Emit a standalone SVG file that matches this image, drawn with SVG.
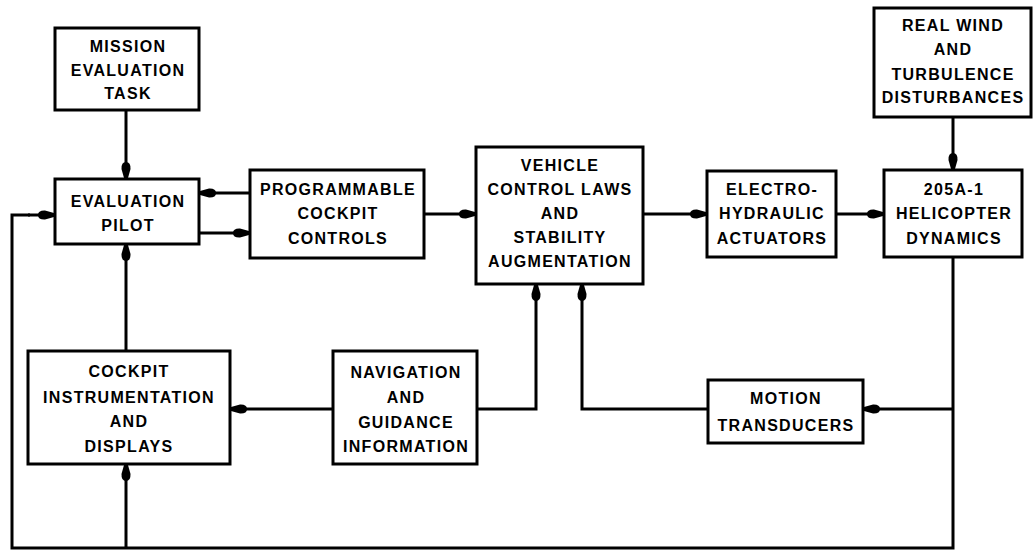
<svg xmlns="http://www.w3.org/2000/svg" width="1033" height="551" viewBox="0 0 1033 551">
<style>
.box{fill:#fff;stroke:#000;stroke-width:3}
.t{font-family:"Liberation Sans",Arial,sans-serif;font-weight:bold;font-size:16px;letter-spacing:1.3px;text-anchor:middle;fill:#000}
.c{fill:none;stroke:#000;stroke-width:3;stroke-linejoin:miter}
.a{marker-end:url(#ah)}
</style>
<defs>
<marker id="ah" markerUnits="userSpaceOnUse" markerWidth="20" markerHeight="12" viewBox="-17 -6 18 12" refX="0" refY="0" orient="auto">
<path d="M0,-2 L-9,-4.5 Q-16,-4.8 -16,0 Q-16,4.8 -9,4.5 L0,2 Z" fill="#000"/>
</marker>
</defs>
<rect width="1033" height="551" fill="#fff"/>
<g id="connectors">
<path class="c a" d="M126,110 V178"/>
<path class="c a" d="M250,193 H200"/>
<path class="c a" d="M199,233 H249"/>
<path class="c" d="M953,257 V548 H12 V215 H30"/>
<path class="c a" d="M28,215 H54"/>
<path class="c a" d="M126,548 V465"/>
<path class="c a" d="M424,214 H475"/>
<path class="c a" d="M643,214 H706"/>
<path class="c a" d="M836,214 H883"/>
<path class="c a" d="M953,117 V169"/>
<path class="c a" d="M953,409 H864"/>
<path class="c a" d="M708,409 H582 V285"/>
<path class="c a" d="M477,409 H536 V285"/>
<path class="c a" d="M333,409 H231"/>
<path class="c a" d="M126,351 V245"/>
</g>
<g id="mission">
<rect class="box" x="55" y="28" width="144" height="82"/>
<text class="t" x="128" y="52">MISSION</text>
<text class="t" x="128" y="76">EVALUATION</text>
<text class="t" x="128" y="99">TASK</text>
</g>
<g id="pilot">
<rect class="box" x="55" y="179" width="144" height="65"/>
<text class="t" x="128" y="207">EVALUATION</text>
<text class="t" x="128" y="231">PILOT</text>
</g>
<g id="pcc">
<rect class="box" x="250" y="170" width="174" height="88"/>
<text class="t" x="338" y="195">PROGRAMMABLE</text>
<text class="t" x="338" y="219">COCKPIT</text>
<text class="t" x="338" y="244">CONTROLS</text>
</g>
<g id="vcl">
<rect class="box" x="476" y="147" width="167" height="137"/>
<text class="t" x="560" y="171">VEHICLE</text>
<text class="t" x="560" y="195">CONTROL LAWS</text>
<text class="t" x="560" y="219">AND</text>
<text class="t" x="560" y="243">STABILITY</text>
<text class="t" x="560" y="267">AUGMENTATION</text>
</g>
<g id="eh">
<rect class="box" x="707" y="171" width="129" height="86"/>
<text class="t" x="772" y="195">ELECTRO-</text>
<text class="t" x="772" y="219">HYDRAULIC</text>
<text class="t" x="772" y="244">ACTUATORS</text>
</g>
<g id="heli">
<rect class="box" x="884" y="170" width="138" height="87"/>
<text class="t" x="954" y="195">205A-1</text>
<text class="t" x="954" y="219">HELICOPTER</text>
<text class="t" x="954" y="244">DYNAMICS</text>
</g>
<g id="wind">
<rect class="box" x="874" y="8" width="157" height="109"/>
<text class="t" x="953" y="31">REAL WIND</text>
<text class="t" x="953" y="55">AND</text>
<text class="t" x="953" y="80">TURBULENCE</text>
<text class="t" x="953" y="103">DISTURBANCES</text>
</g>
<g id="cid">
<rect class="box" x="28" y="351" width="202" height="113"/>
<text class="t" x="129" y="377">COCKPIT</text>
<text class="t" x="129" y="403">INSTRUMENTATION</text>
<text class="t" x="129" y="427">AND</text>
<text class="t" x="129" y="452">DISPLAYS</text>
</g>
<g id="nav">
<rect class="box" x="333" y="351" width="144" height="113"/>
<text class="t" x="406" y="378">NAVIGATION</text>
<text class="t" x="406" y="403">AND</text>
<text class="t" x="406" y="428">GUIDANCE</text>
<text class="t" x="406" y="452">INFORMATION</text>
</g>
<g id="motion">
<rect class="box" x="708" y="380" width="155" height="63"/>
<text class="t" x="786" y="404">MOTION</text>
<text class="t" x="786" y="431">TRANSDUCERS</text>
</g>
</svg>
